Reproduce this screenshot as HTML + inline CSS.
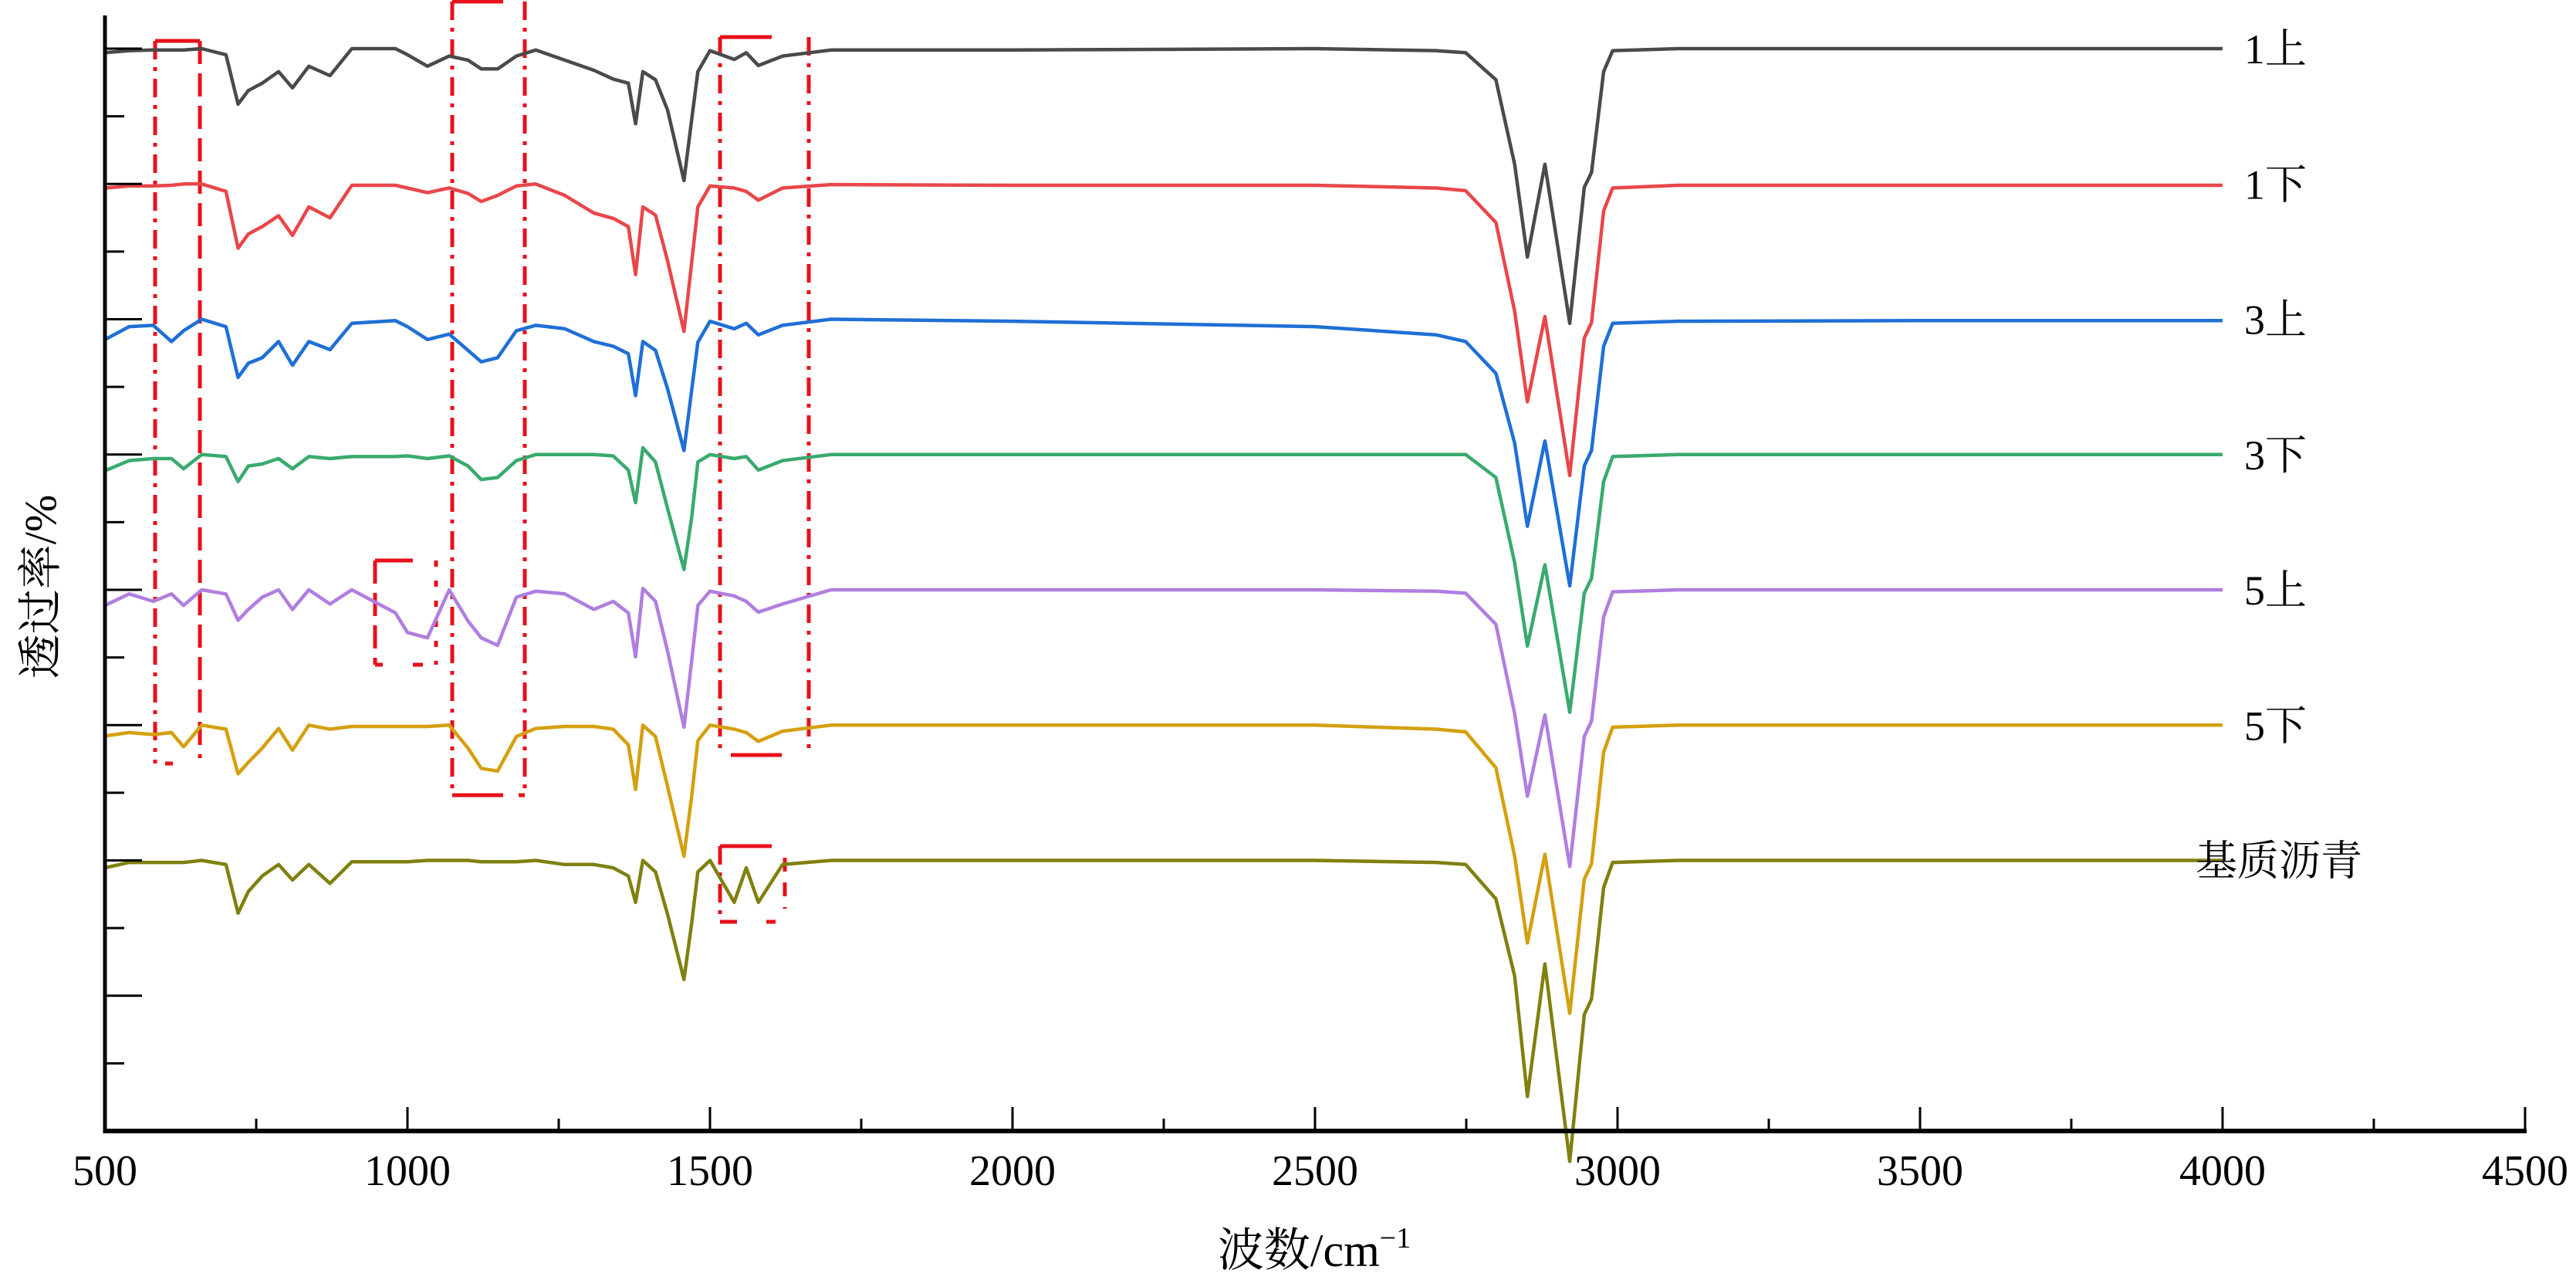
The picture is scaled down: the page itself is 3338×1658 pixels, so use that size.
<!DOCTYPE html>
<html><head><meta charset="utf-8"><style>
html,body{margin:0;padding:0;background:#fff;}
svg{display:block;}
text{font-family:"Liberation Serif","Noto Serif CJK SC","Noto Sans CJK SC",serif;fill:#000;}
</style></head><body>
<svg id="chart" width="3338" height="1658" viewBox="0 0 3338 1658" xmlns="http://www.w3.org/2000/svg">
<g id="boxes" fill="none" stroke="#e8101a" stroke-width="5"></g>
<g id="series" fill="none" stroke-width="4.5" stroke-linejoin="round"></g>
<g id="axes"></g>
<g id="labels"></g>
</svg>
<script>
const wavenumbers=[500,540,580,610,630,660,700,720,737,760,787,810,837,872,908,980,1000,1033,1069,1100,1122,1149,1180,1212,1260,1308,1340,1365,1377,1389,1410,1430,1457,1470,1480,1500,1540,1560,1580,1620,1700,2000,2500,2700,2749,2799,2830,2851,2880,2921,2945,2957,2977,2992,3100,3500,4000];
const seriesNames=["1上","1下","3上","3下","5上","5下","基质沥青"];
const seriesBaselines=[160,140,120,100,80,60,40];
const depthGrey=[0.6,0.3,0.2,0.2,0.2,0,0.9,8.2,6.2,5.1,3.4,5.8,2.6,4.0,0,0,0.9,2.6,1.1,1.7,3.0,3.0,1.1,0.2,1.7,3.2,4.5,5.1,11.1,3.4,4.6,9.1,19.5,10.3,3.4,0.3,1.6,0.6,2.5,1.1,0.2,0.2,0,0.3,0.6,4.6,17.1,30.8,17.1,40.6,20.5,18.3,3.4,0.3,0,0,0];
const depthRed=[0.6,0.3,0.3,0.2,0,0,1.1,9.5,7.4,6.3,4.7,7.6,3.4,5.0,0.2,0.2,0.6,1.3,0.6,1.4,2.6,1.7,0.3,0,1.7,4.3,5.1,6.3,13.4,3.4,4.6,11.4,21.8,11.4,3.4,0.3,0.6,1.1,2.4,0.6,0.1,0.2,0.2,0.6,1.0,5.7,18.8,32.2,19.6,43.1,22.8,20.5,4.0,0.6,0.2,0.2,0.2];
const depthBlue=[3.0,1.1,0.9,3.3,1.7,0,1.1,8.6,6.5,5.7,3.3,6.8,3.3,4.5,0.6,0.2,1.1,3.0,2.2,4.6,6.3,5.7,1.7,0.9,1.4,3.3,4.0,5.1,11.3,3.3,4.6,10.3,19.4,10.3,3.4,0.3,1.4,0.6,2.3,0.9,0,0.3,1.1,2.3,3.3,8.0,18.3,30.6,18.0,39.4,21.7,19.4,4.0,0.6,0.3,0.2,0.2];
const depthGreen=[2.4,0.9,0.6,0.6,2.1,0,0.3,4.0,1.7,1.4,0.6,2.1,0.3,0.6,0.3,0.3,0.2,0.6,0.2,1.7,3.7,3.4,0.9,0,0,0,0.2,2.3,7.1,-1.0,1.1,8.0,17.0,9.1,1.1,0,0.6,0.3,2.3,0.9,0,0,0,0,0,3.4,16.0,28.3,16.3,38.1,20.5,18.3,4.0,0.3,0,0,0];
const depthPurple=[2.3,0.6,1.7,0.6,2.3,0,0.6,4.5,2.9,1.1,0,2.9,0,2.1,0,3.4,6.3,7.1,0,4.6,7.1,8.2,1.1,0.2,0.6,2.9,1.7,3.4,9.9,-0.2,1.7,9.1,20.3,10.3,2.3,0.2,0.9,1.7,3.3,2.1,0,0,0,0.2,0.5,5.1,18.3,30.5,18.5,40.9,21.7,19.4,4.0,0.3,0,0,0];
const depthGold=[1.6,1.1,1.4,1.1,3.2,0,0.6,7.2,5.5,3.4,0.5,3.7,0,0.6,0.2,0.2,0.2,0.2,0,3.4,6.4,6.8,1.7,0.5,0.2,0.2,0.6,2.9,9.5,0,1.7,9.1,19.4,10.3,2.3,0,0.6,1.1,2.4,0.9,0,0,0,0.6,1.0,6.3,19.4,32.2,19.1,42.6,22.8,20.5,4.0,0.3,0,0,0];
const depthOlive=[1.1,0.3,0.3,0.3,0.3,0,0.6,7.8,4.6,2.3,0.6,2.9,0.6,3.4,0.2,0.2,0.2,0,0,0,0.2,0.2,0.2,0,0.6,0.6,1.1,2.3,6.2,0,1.7,8.0,17.6,9.1,1.7,0,6.2,1.1,6.2,0.6,0,0,0,0.3,0.6,5.7,17.1,34.9,15.3,44.5,22.8,20.5,4.0,0.3,0,0,0];
const seriesDepths=[depthGrey,depthRed,depthBlue,depthGreen,depthPurple,depthGold,depthOlive];
const seriesColors=["#4a4a4a","#e8474a","#1f6fd6","#3aaa6e","#b07ee0","#d4a010","#808010"];
const xTicks=[500,1000,1500,2000,2500,3000,3500,4000,4500];
const yMajor=[20,40,60,80,100,120,140,160];

const NS="http://www.w3.org/2000/svg";
const X0=136,X1=3272,Y0=1465,Y1=63;
function xs(w){return X0+(w-500)*(X1-X0)/4000;}
function ys(v){return Y0-(v)*(Y0-Y1)/160;}
function mk(tag,attrs,parent){const e=document.createElementNS(NS,tag);for(const k in attrs)e.setAttribute(k,attrs[k]);parent.appendChild(e);return e;}

const sg=document.getElementById('series');
seriesDepths.forEach((d,i)=>{
  const pts=wavenumbers.map((w,j)=>xs(w).toFixed(1)+','+ys(seriesBaselines[i]-d[j]).toFixed(1)).join(' ');
  const pl=mk('polyline',{points:pts,stroke:seriesColors[i]},sg);
  
  
});

const ax=document.getElementById('axes');
const yl=mk('line',{x1:X0,y1:20,x2:X0,y2:Y0+3,stroke:'#000','stroke-width':5},ax);


const xl=mk('line',{x1:X0-2,y1:Y0,x2:X1+2,y2:Y0,stroke:'#000','stroke-width':6},ax);


xTicks.forEach((t,i)=>{
  const x=xs(t);
  const tk=mk('line',{x1:x,y1:Y0,x2:x,y2:Y0-31,stroke:'#000','stroke-width':3},ax);
  
  
  if(i<xTicks.length-1){
    const xm=xs(t+250);
    const mt=mk('line',{x1:xm,y1:Y0,x2:xm,y2:Y0-16,stroke:'#000','stroke-width':3},ax);
    
    
  }
  const tl=mk('text',{x:x,y:1535,'font-size':56,'text-anchor':'middle'},ax);
  tl.textContent=t;
  
  
});
yMajor.forEach(v=>{
  const y=ys(v);
  const t=mk('line',{x1:X0,y1:y,x2:X0+48,y2:y,stroke:'#000','stroke-width':3},ax);
  
  
  const m=mk('line',{x1:X0,y1:ys(v-10),x2:X0+25,y2:ys(v-10),stroke:'#000','stroke-width':3},ax);
  
  
});
const xt=mk('text',{x:1703,y:1640,'font-size':60,'text-anchor':'middle'},ax);
xt.innerHTML='波数/cm<tspan font-size="38" dy="-24">−1</tspan>';


const yt=mk('text',{x:0,y:0,'font-size':58,'text-anchor':'middle',transform:'translate(72,760) rotate(-90)'},ax);
yt.textContent='透过率/%';



const lg=document.getElementById('labels');
seriesNames.forEach((n,i)=>{
  const t=mk('text',{x:i==6?2845:2908,y:ys(seriesBaselines[i])+19,'font-size':54},lg);
  t.textContent=n;
  
  
});

const bx=document.getElementById('boxes');
const dd='24 10 5 10', ds='30 12';
const segs=[
 [201,53,259,53,null],[201,53,201,989,dd],[259,53,259,982,ds],[214,989,224,989,null],
 [586,2,652,2,null],[586,2,586,1030,dd],[680,2,680,1030,dd],[586,1030,652,1030,null],[672,1030,680,1030,null],
 [486,726,535,726,null],[486,726,486,861,ds],[565,726,565,861,'8 18'],[486,861,496,861,null],[535,861,548,861,null],
 [933,48,1000,48,null],[933,48,933,978,dd],[1048,48,1048,974,dd],[947,978,1013,978,null],
 [933,1096,1000,1096,null],[933,1096,933,1194,dd],[1017,1111,1017,1177,'18 14'],[933,1194,955,1194,null],[993,1194,1005,1194,null]
];
segs.forEach(s=>{
  const l=mk('line',{x1:s[0],y1:s[1],x2:s[2],y2:s[3]},bx);
  if(s[4])l.setAttribute('stroke-dasharray',s[4]);
  
  
});
</script>
</body></html>
